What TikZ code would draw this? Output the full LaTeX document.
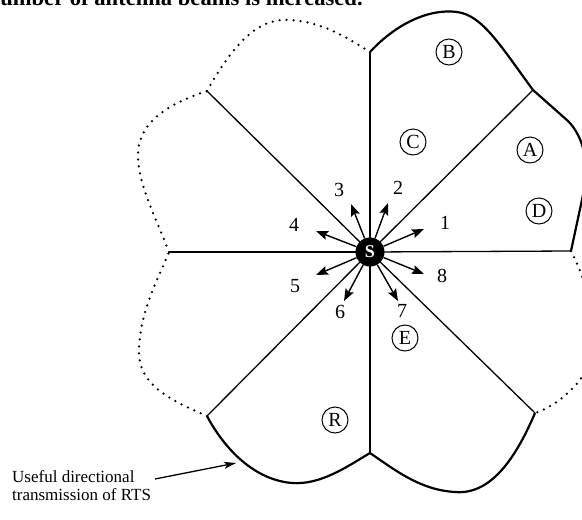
\documentclass[tikz,border=0pt]{standalone}
\usepackage{fontspec}
\setmainfont{Liberation Serif}
\usetikzlibrary{arrows.meta}
\begin{document}
\begin{tikzpicture}[x=1pt,y=-1pt,
  radial/.style={line width=1.3pt},
  edge/.style={line width=2.2pt, line join=round},
  dotedge/.style={line width=2.5pt, dash pattern=on 0pt off 7pt, line cap=round},
  beam/.style={line width=1.4pt, -{Stealth[length=12pt,width=9pt,inset=2pt]}},
  station/.style={circle, draw, line width=1pt, minimum size=26pt, inner sep=0pt, font=\fontsize{20}{20}\selectfont},
  num/.style={font=\fontsize{20}{20}\selectfont, inner sep=0pt},
]
\useasboundingbox (0,0) rectangle (582,520);
\clip (0,0) rectangle (582,520);

% heading (cut off at the top)
\node[anchor=base west, inner sep=0pt, font=\bfseries\fontsize{22.6}{22.6}\selectfont] (head) at (-12.5,5) {number of antenna beams is increased.};

% key points
\coordinate (s) at (370,252);
\coordinate (U) at (370,52);
\coordinate (UR) at (533,90);
\coordinate (R) at (571,251);
\coordinate (DR) at (535,413);
\coordinate (D) at (370,453);
\coordinate (DL) at (207,416);
\coordinate (L) at (169,252);
\coordinate (UL) at (207,91);

% radial sector borders
\foreach \p in {U,UR,R,DR,D,DL,L,UL} \draw[radial] (s) -- (\p);

% outer boundary: solid (useful) parts
\draw[edge] (U) .. controls (392,28) and (425,8) .. (457,12) .. controls (482,15) and (500,45) .. (UR);
\draw[edge] (UR) -- (568,121) .. controls (584,137) and (590,165) .. (583,195) -- (R);
\draw[edge] (DR) .. controls (515,460) and (490,495) .. (455,492) .. controls (420,490) and (395,470) .. (D);
\draw[edge] (D) .. controls (345,468) and (320,485) .. (292,483) .. controls (255,480) and (225,450) .. (DL);

% outer boundary: dotted parts
\draw[dotedge] (UL) .. controls (240,32) and (265,18) .. (290,20) .. controls (325,22) and (350,40) .. (U);
\draw[dotedge] (R) .. controls (592,290) and (602,350) .. (580,380) .. controls (565,398) and (550,408) .. (DR);
\draw[dotedge] (DL) .. controls (170,400) and (138,385) .. (139,350) .. controls (140,310) and (160,275) .. (L);
\draw[dotedge] (L) .. controls (155,215) and (133,175) .. (139,145) .. controls (145,115) and (180,100) .. (UL);

% beam arrows
\coordinate (t1) at (424,229);
\coordinate (t2) at (388,203);
\coordinate (t3) at (351,204);
\coordinate (t4) at (316,231);
\coordinate (t5) at (316,275);
\coordinate (t6) at (344,301);
\coordinate (t7) at (398,301);
\coordinate (t8) at (424,274);

\node[circle, fill=black, minimum size=29pt, inner sep=0pt, text=white, font=\bfseries\fontsize{18}{18}\selectfont] (S) at (s) {S};
\foreach \t in {t1,t2,t3,t4,t5,t6,t7,t8} \draw[beam] (S) -- (\t);

% beam numbers
\node[num] (n1) at (445,223) {1};
\node[num] (n2) at (398,188) {2};
\node[num] (n3) at (339,190) {3};
\node[num] (n4) at (294,225) {4};
\node[num] (n5) at (295,286) {5};
\node[num] (n6) at (340,312) {6};
\node[num] (n7) at (402,311) {7};
\node[num] (n8) at (442,276) {8};

% stations
\node[station] (B) at (449,52) {B};
\node[station] (C) at (413,142) {C};
\node[station] (A) at (530,150) {A};
\node[station] (Dn) at (539,211) {D};
\node[station] (E) at (405,338) {E};
\node[station] (Rn) at (335,420) {R};

% caption and pointer
\node[anchor=base west, inner sep=0pt, font=\fontsize{17}{18}\selectfont] (cap1) at (12,482) {Useful directional};
\node[anchor=base west, inner sep=0pt, font=\fontsize{17}{18}\selectfont] (cap2) at (12,500) {transmission of RTS};
\coordinate (pstart) at (155,479);
\coordinate (ptip) at (236,463);
\draw[line width=1.3pt, -{Stealth[length=12pt,width=7pt,inset=3pt]}] (pstart) -- (ptip);
\end{tikzpicture}
\end{document}
